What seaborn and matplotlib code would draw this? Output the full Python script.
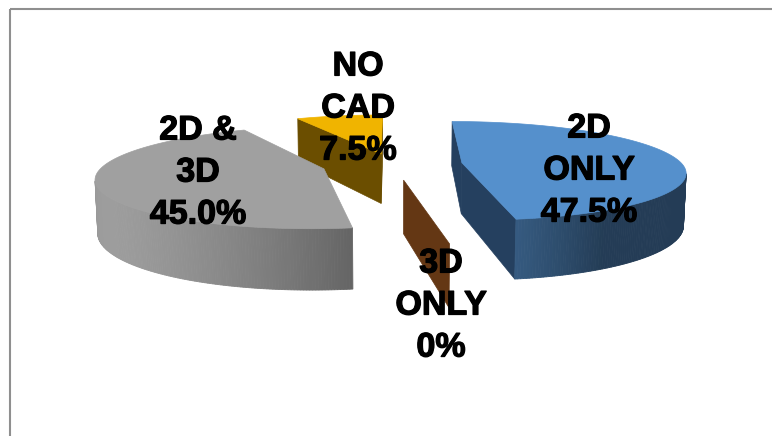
import numpy as np
import matplotlib
matplotlib.use("Agg")
import matplotlib.pyplot as plt
import matplotlib.patheffects as pe
import seaborn as sns
from matplotlib.patches import Polygon, Rectangle
from matplotlib.colors import to_rgb

# ---- data ----
categories = ["2D ONLY", "3D ONLY", "2D & 3D", "NO CAD"]
values = [47.5, 0.0, 45.0, 7.5]
label_texts = ["2D\nONLY\n47.5%", "3D\nONLY\n0%", "2D &\n3D\n45.0%", "NO\nCAD\n7.5%"]

# ---- style ----
sns.set_theme(style="white")
plt.rcParams["font.family"] = ["Liberation Sans", "DejaVu Sans"]

top_colors = sns.color_palette(["#5590CC", "#7A4519", "#A0A0A0", "#F0B400"])
side_colors = ["#25405F", "#643714", "#6E6E6E", "#6B4E00"]
explode = [0.32, 0.32, 0.32, 0.22]
label_xy = [(589, 171), (441, 306), (198, 173), (358, 109)]

# projection parameters (pixel space)
CX, CY = 392, 164
F = 1320.0
D = 6.0
PHI = np.radians(12.7)
H = 0.24
cam = np.array([0.0, -D * np.cos(PHI), D * np.sin(PHI)])
L = np.array([-1.0, -0.6, 0.8]); L = L / np.linalg.norm(L)


def proj(x, y, z):
    depth = y * np.cos(PHI) - z * np.sin(PHI) + D
    up = y * np.sin(PHI) + z * np.cos(PHI)
    return CX + F * x / depth, CY - F * up / depth


def shade(c, f):
    r, g, b = to_rgb(c)
    return (min(1, r * f), min(1, g * f), min(1, b * f))


fig = plt.figure(figsize=(7.72, 4.36), dpi=100)
ax = fig.add_axes([0, 0, 1, 1])
ax.set_xlim(0, 772)
ax.set_ylim(436, 0)
ax.axis("off")

# slice angles: start at 12 o'clock, clockwise
total = sum(values)
slices = []
a0 = 90.0
for i, v in enumerate(values):
    span = 360.0 * v / total
    hi, lo = a0, a0 - span
    a0 = lo
    mid = np.radians((lo + hi) / 2)
    ox, oy = explode[i] * np.cos(mid), explode[i] * np.sin(mid)
    depth = oy * np.cos(PHI) + D
    slices.append(dict(i=i, lo=lo, hi=hi, ox=ox, oy=oy, depth=depth))

slices.sort(key=lambda s: -s["depth"])

z0 = 10
for s in slices:
    i, lo, hi, ox, oy = s["i"], s["lo"], s["hi"], s["ox"], s["oy"]
    apex = np.array([ox, oy, 0.0])
    tc = top_colors[i]

    def radial_face(t):
        tr = np.radians(t)
        rx, ry = ox + np.cos(tr), oy + np.sin(tr)
        return [proj(ox, oy, 0), proj(rx, ry, 0), proj(rx, ry, -H), proj(ox, oy, -H)]

    if hi - lo < 1e-9:
        pts = radial_face(lo)
        ax.add_patch(Polygon(pts, closed=True, facecolor=side_colors[i],
                             edgecolor=side_colors[i], lw=0.5, zorder=z0))
    else:
        for t, nrm in ((lo, np.array([np.sin(np.radians(lo)), -np.cos(np.radians(lo)), 0])),
                       (hi, np.array([-np.sin(np.radians(hi)), np.cos(np.radians(hi)), 0]))):
            if nrm @ (cam - apex) > 0:
                pts = radial_face(t)
                ax.add_patch(Polygon(pts, closed=True, facecolor=side_colors[i],
                                     edgecolor=side_colors[i], lw=0.5, zorder=z0))
        th = np.linspace(lo, hi, int(max(2, (hi - lo) * 1.5)))
        for ta, tb in zip(th[:-1], th[1:]):
            tm = np.radians((ta + tb) / 2)
            n = np.array([np.cos(tm), np.sin(tm), 0])
            p = np.array([ox + np.cos(tm), oy + np.sin(tm), 0])
            if n @ (cam - p) <= 0:
                continue
            f = 0.42 + 0.68 * max(0.0, n @ L)
            col = shade(tc, f)
            ra, rb = np.radians(ta), np.radians(tb)
            pts = [proj(ox + np.cos(ra), oy + np.sin(ra), 0),
                   proj(ox + np.cos(rb), oy + np.sin(rb), 0),
                   proj(ox + np.cos(rb), oy + np.sin(rb), -H),
                   proj(ox + np.cos(ra), oy + np.sin(ra), -H)]
            ax.add_patch(Polygon(pts, closed=True, facecolor=col, edgecolor=col,
                                 lw=0.6, zorder=z0 + 1))
        th = np.radians(np.linspace(lo, hi, int(max(2, (hi - lo) * 2))))
        pts = [proj(ox, oy, 0)] + [proj(ox + np.cos(t), oy + np.sin(t), 0) for t in th]
        ax.add_patch(Polygon(pts, closed=True, facecolor=tc, edgecolor=tc,
                             lw=0.5, zorder=z0 + 2))
    z0 += 5

for (x, y), txt in zip(label_xy, label_texts):
    ax.text(x, y, txt, ha="center", va="center", fontsize=24.5, fontweight="bold",
            color="black", linespacing=1.46, zorder=100,
            path_effects=[pe.withStroke(linewidth=0.9, foreground="black")])

ax.add_patch(Rectangle((10, 9), 800, 500, fill=False, edgecolor="#8F8F8F",
                       lw=1.5, zorder=200, clip_on=False))

fig.savefig("out.png", dpi=100)
